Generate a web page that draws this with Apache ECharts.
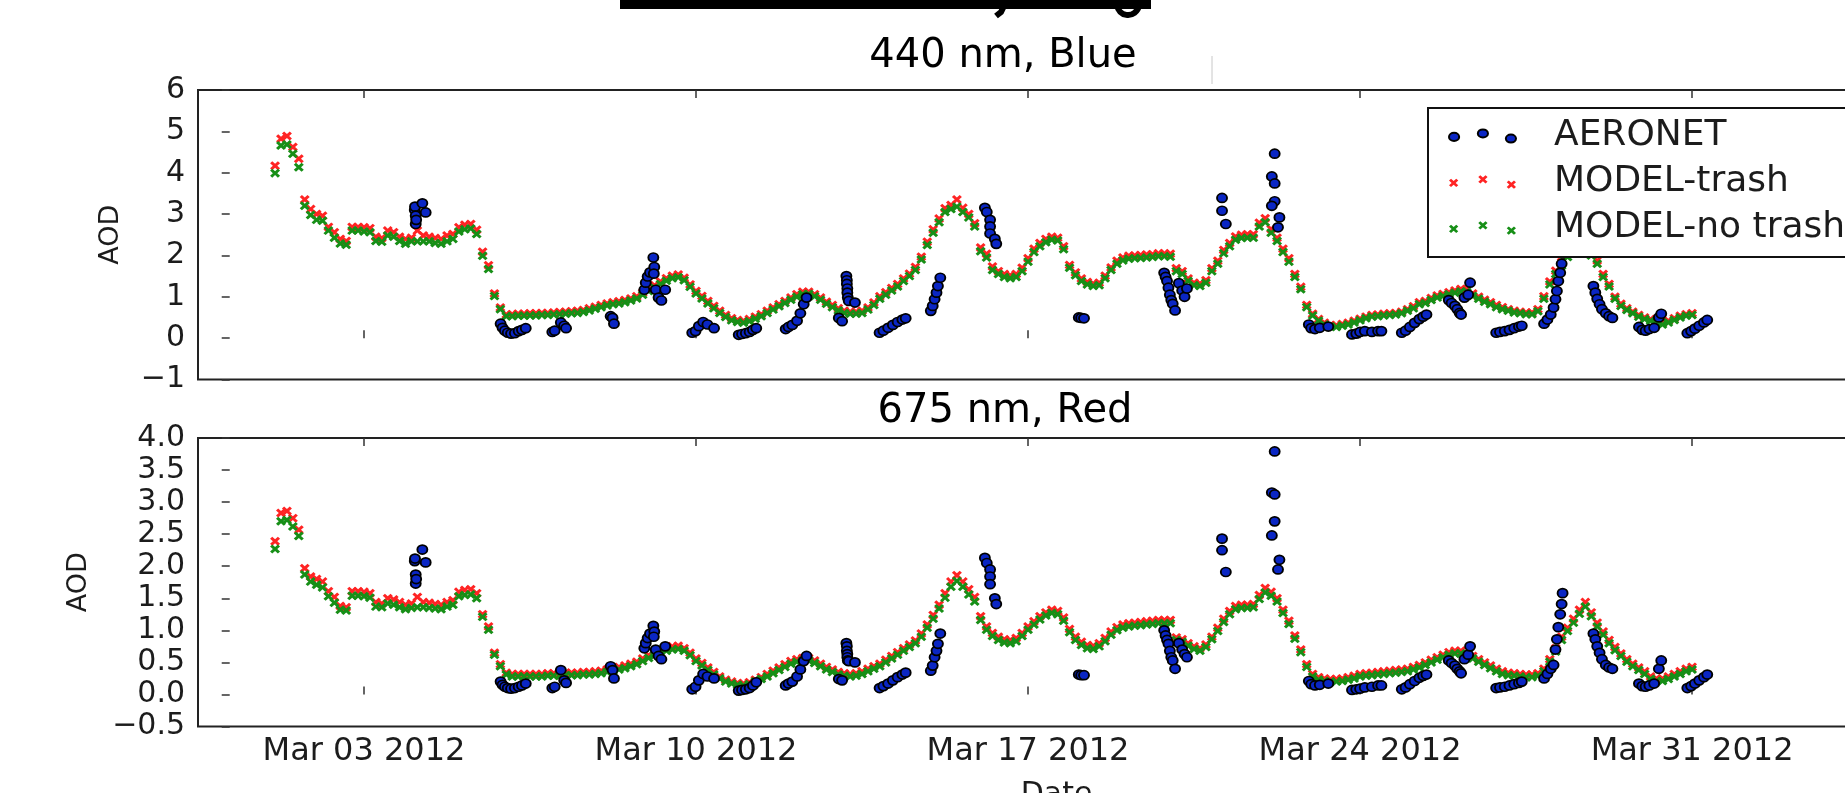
<!DOCTYPE html>
<html><head><meta charset="utf-8">
<script src="https://cdn.jsdelivr.net/npm/echarts@6/dist/echarts.min.js"></script>
<style>html,body{margin:0;padding:0;background:#fff}#c{width:1845px;height:793px}</style>
</head><body><div id="c"></div>
<script>
// ---- data ----
const xTickDays = [3, 10, 17, 24, 31];
const xTickLabels = ['Mar 03 2012', 'Mar 10 2012', 'Mar 17 2012', 'Mar 24 2012', 'Mar 31 2012'];
const panelTitles = ['440 nm, Blue', '675 nm, Red'];
const seriesNames = ['AERONET', 'MODEL-trash', 'MODEL-no trash'];
// model output: 3-hourly, first value on day 1.125 of March 2012
const modelStartDay = 1.125, modelStepDays = 0.125;
const trash440 = [4.17,4.82,4.89,4.62,4.34,3.35,3.12,3.00,
2.96,2.69,2.56,2.40,2.35,2.69,2.69,2.68,
2.66,2.45,2.42,2.60,2.56,2.45,2.40,2.43,
2.60,2.48,2.45,2.42,2.40,2.48,2.52,2.68,
2.74,2.76,2.62,2.09,1.76,1.08,0.74,0.57,
0.58,0.59,0.59,0.60,0.60,0.61,0.61,0.62,
0.63,0.64,0.65,0.66,0.68,0.72,0.76,0.80,
0.84,0.87,0.89,0.92,0.96,1.01,1.10,1.19,
1.28,1.37,1.45,1.51,1.54,1.46,1.30,1.14,
1.02,0.90,0.78,0.66,0.56,0.48,0.44,0.42,
0.46,0.52,0.58,0.66,0.74,0.82,0.90,0.98,
1.06,1.12,1.12,1.06,0.98,0.88,0.80,0.72,
0.66,0.64,0.64,0.66,0.74,0.86,1.01,1.11,
1.21,1.31,1.44,1.56,1.72,1.97,2.33,2.63,
2.89,3.14,3.22,3.35,3.15,3.00,2.78,2.19,
2.04,1.73,1.62,1.55,1.52,1.55,1.70,1.93,
2.16,2.30,2.40,2.45,2.43,2.22,1.77,1.59,
1.44,1.36,1.32,1.34,1.51,1.71,1.87,1.95,
1.99,2.00,2.01,2.02,2.03,2.05,2.05,2.04,
1.69,1.62,1.44,1.34,1.32,1.40,1.69,1.87,
2.13,2.30,2.46,2.50,2.51,2.51,2.79,2.90,
2.64,2.43,2.16,1.93,1.55,1.24,0.80,0.59,
0.46,0.37,0.32,0.31,0.34,0.37,0.42,0.47,
0.52,0.56,0.57,0.59,0.60,0.61,0.64,0.70,
0.77,0.87,0.90,0.97,1.03,1.07,1.11,1.15,
1.19,1.18,1.08,1.00,0.93,0.87,0.80,0.75,
0.70,0.66,0.64,0.62,0.62,0.70,1.01,1.37,
1.63,1.84,2.05,2.25,2.40,2.42,2.10,1.88,
1.55,1.31,1.00,0.83,0.72,0.64,0.56,0.50,
0.46,0.42,0.37,0.42,0.48,0.54,0.58,0.60];
const noTrash440 = [3.99,4.66,4.68,4.46,4.13,3.20,2.98,2.86,
2.84,2.60,2.43,2.29,2.26,2.60,2.60,2.58,
2.56,2.35,2.33,2.48,2.45,2.35,2.28,2.34,
2.34,2.34,2.34,2.30,2.28,2.34,2.40,2.58,
2.63,2.65,2.52,1.99,1.67,1.02,0.70,0.53,
0.53,0.54,0.54,0.55,0.55,0.56,0.56,0.57,
0.58,0.59,0.60,0.61,0.63,0.67,0.71,0.75,
0.79,0.82,0.84,0.87,0.91,0.96,1.05,1.14,
1.22,1.31,1.39,1.45,1.47,1.40,1.24,1.08,
0.96,0.84,0.72,0.61,0.51,0.43,0.39,0.37,
0.41,0.47,0.53,0.61,0.69,0.77,0.85,0.93,
1.00,1.06,1.07,1.01,0.93,0.83,0.75,0.67,
0.61,0.59,0.59,0.61,0.69,0.80,0.95,1.05,
1.15,1.25,1.38,1.50,1.65,1.90,2.25,2.55,
2.80,3.05,3.12,3.18,3.05,2.92,2.70,2.10,
1.95,1.65,1.55,1.48,1.45,1.48,1.62,1.85,
2.08,2.22,2.32,2.38,2.36,2.15,1.70,1.52,
1.38,1.30,1.26,1.28,1.45,1.65,1.80,1.88,
1.92,1.93,1.94,1.95,1.96,1.98,1.98,1.97,
1.62,1.55,1.38,1.28,1.26,1.34,1.62,1.80,
2.05,2.22,2.38,2.42,2.43,2.43,2.70,2.80,
2.55,2.35,2.08,1.85,1.48,1.18,0.75,0.55,
0.42,0.33,0.28,0.27,0.30,0.33,0.38,0.43,
0.48,0.52,0.53,0.55,0.56,0.57,0.60,0.66,
0.72,0.82,0.85,0.92,0.98,1.02,1.06,1.10,
1.13,1.12,1.02,0.95,0.88,0.82,0.75,0.70,
0.66,0.62,0.60,0.58,0.58,0.65,0.95,1.30,
1.55,1.75,1.96,2.15,2.30,2.32,2.00,1.80,
1.48,1.25,0.95,0.78,0.68,0.60,0.52,0.46,
0.42,0.38,0.33,0.38,0.44,0.50,0.54,0.56];
const trash675 = [2.39,2.83,2.86,2.75,2.57,1.97,1.84,1.80,
1.76,1.61,1.52,1.38,1.36,1.61,1.61,1.60,
1.58,1.44,1.42,1.50,1.48,1.44,1.40,1.42,
1.52,1.44,1.43,1.41,1.40,1.44,1.47,1.60,
1.63,1.64,1.58,1.25,1.06,0.65,0.47,0.34,
0.32,0.32,0.32,0.32,0.32,0.32,0.33,0.33,
0.33,0.34,0.34,0.34,0.35,0.35,0.36,0.37,
0.39,0.41,0.43,0.45,0.48,0.51,0.56,0.61,
0.65,0.69,0.72,0.75,0.76,0.72,0.65,0.56,
0.49,0.42,0.35,0.28,0.23,0.20,0.18,0.17,
0.19,0.23,0.27,0.32,0.37,0.42,0.47,0.52,
0.55,0.57,0.57,0.53,0.48,0.43,0.39,0.35,
0.33,0.32,0.33,0.36,0.40,0.44,0.48,0.54,
0.60,0.66,0.72,0.78,0.84,0.95,1.09,1.24,
1.40,1.58,1.76,1.86,1.76,1.64,1.52,1.22,
1.06,0.96,0.90,0.86,0.85,0.88,0.96,1.06,
1.14,1.22,1.28,1.32,1.30,1.20,1.02,0.90,
0.82,0.77,0.76,0.80,0.88,0.98,1.05,1.09,
1.11,1.12,1.13,1.14,1.15,1.16,1.16,1.16,
0.89,0.86,0.80,0.75,0.72,0.78,0.90,1.04,
1.18,1.30,1.38,1.40,1.40,1.41,1.55,1.66,
1.60,1.50,1.32,1.15,0.92,0.70,0.47,0.32,
0.27,0.25,0.24,0.24,0.25,0.27,0.29,0.32,
0.33,0.34,0.35,0.36,0.37,0.38,0.39,0.40,
0.43,0.46,0.50,0.54,0.58,0.62,0.66,0.68,
0.68,0.64,0.60,0.55,0.50,0.45,0.40,0.36,
0.34,0.33,0.32,0.31,0.31,0.33,0.40,0.55,
0.72,0.90,1.04,1.18,1.32,1.44,1.28,1.12,
0.98,0.85,0.74,0.64,0.55,0.48,0.42,0.36,
0.28,0.25,0.25,0.28,0.32,0.36,0.40,0.43];
const noTrash675 = [2.27,2.70,2.72,2.62,2.47,1.87,1.76,1.71,
1.67,1.53,1.43,1.32,1.31,1.54,1.54,1.53,
1.51,1.37,1.36,1.42,1.40,1.36,1.33,1.35,
1.36,1.36,1.35,1.34,1.33,1.37,1.40,1.53,
1.55,1.56,1.50,1.21,1.01,0.62,0.44,0.31,
0.28,0.28,0.28,0.28,0.28,0.28,0.29,0.29,
0.29,0.30,0.30,0.30,0.31,0.31,0.32,0.33,
0.35,0.37,0.39,0.41,0.44,0.47,0.52,0.57,
0.61,0.65,0.68,0.70,0.71,0.68,0.61,0.52,
0.45,0.38,0.31,0.25,0.20,0.17,0.15,0.14,
0.16,0.20,0.24,0.28,0.33,0.38,0.43,0.48,
0.51,0.53,0.53,0.49,0.44,0.39,0.35,0.31,
0.29,0.28,0.29,0.32,0.36,0.40,0.44,0.50,
0.56,0.62,0.68,0.74,0.80,0.90,1.04,1.18,
1.34,1.51,1.68,1.77,1.68,1.56,1.45,1.16,
1.01,0.91,0.85,0.81,0.80,0.83,0.91,1.01,
1.09,1.17,1.23,1.27,1.25,1.15,0.97,0.85,
0.77,0.72,0.71,0.75,0.83,0.93,1.00,1.04,
1.06,1.07,1.08,1.09,1.10,1.11,1.11,1.11,
0.85,0.82,0.76,0.71,0.68,0.74,0.86,0.99,
1.13,1.25,1.33,1.35,1.35,1.36,1.49,1.59,
1.54,1.45,1.27,1.10,0.87,0.66,0.43,0.28,
0.23,0.21,0.20,0.20,0.21,0.23,0.25,0.28,
0.29,0.30,0.31,0.32,0.33,0.34,0.35,0.36,
0.39,0.42,0.46,0.50,0.54,0.58,0.62,0.64,
0.64,0.60,0.56,0.51,0.46,0.41,0.36,0.32,
0.30,0.29,0.28,0.27,0.27,0.29,0.36,0.51,
0.67,0.85,0.99,1.12,1.26,1.37,1.22,1.06,
0.93,0.80,0.69,0.60,0.51,0.44,0.38,0.32,
0.24,0.21,0.21,0.24,0.28,0.32,0.36,0.39];
// AERONET observations (day of March 2012, AOD 440 nm, AOD 675 nm)
const aeronetDays = [4.07,4.075,4.09,4.09,4.10,4.23,4.30,
5.88,5.92,5.97,6.03,6.10,6.18,6.26,6.33,6.41,
6.97,7.02,7.15,7.22,7.26,
8.20,8.24,8.27,
8.91,8.94,8.98,9.03,9.10,9.12,9.11,9.15,9.21,9.27,9.35,
9.92,9.99,10.06,10.15,10.24,10.38,
10.90,10.97,11.05,11.13,11.20,11.27,
11.89,11.95,12.03,12.13,12.20,12.27,12.33,
13.01,13.08,13.17,13.18,13.18,13.19,13.19,13.20,13.22,13.35,
13.87,13.95,14.05,14.15,14.25,14.35,14.42,
14.95,14.99,15.03,15.07,15.10,15.15,
16.09,16.13,16.20,16.20,16.20,16.30,16.33,
18.07,18.12,18.18,
19.87,19.90,19.93,19.96,19.99,20.02,20.05,20.10,20.18,20.25,20.30,20.35,
21.09,21.09,21.17,
22.20,22.14,22.20,22.20,22.14,22.30,22.27,
22.92,22.97,23.05,23.15,23.33,
23.83,23.92,24.00,24.10,24.25,24.38,24.45,
24.88,24.96,25.05,25.15,25.25,25.33,25.40,
25.87,25.93,26.00,26.05,26.10,26.13,26.20,26.28,26.32,
26.87,26.95,27.05,27.15,27.25,27.35,27.41,
27.88,27.95,28.02,28.08,28.12,28.15,28.18,28.22,28.25,28.27,
28.92,28.96,29.00,29.05,29.10,29.18,29.25,29.32,
29.88,29.95,30.02,30.10,30.20,30.30,30.35,
30.90,30.98,31.06,31.15,31.25,31.32];
const aeronet440 = [3.10,3.18,2.96,2.76,2.86,3.26,3.04,
0.35,0.25,0.18,0.13,0.11,0.12,0.17,0.20,0.24,
0.15,0.18,0.38,0.30,0.24,
0.53,0.49,0.35,
1.17,1.34,1.49,1.59,1.95,1.72,1.56,1.17,0.98,0.91,1.17,
0.13,0.17,0.29,0.39,0.33,0.24,
0.08,0.10,0.12,0.15,0.20,0.24,
0.22,0.27,0.32,0.42,0.60,0.82,0.98,
0.49,0.41,1.50,1.40,1.31,1.20,1.10,0.98,0.90,0.86,
0.13,0.18,0.25,0.32,0.39,0.45,0.48,
0.66,0.78,0.94,1.10,1.26,1.46,
3.15,3.05,2.86,2.70,2.53,2.40,2.28,
0.50,0.49,0.48,
1.58,1.48,1.38,1.22,1.05,0.92,0.83,0.67,1.33,1.15,1.00,1.20,
3.39,3.08,2.76,
4.46,3.91,3.74,3.31,3.20,2.92,2.68,
0.33,0.24,0.22,0.25,0.28,
0.09,0.11,0.15,0.17,0.15,0.17,0.17,
0.13,0.18,0.27,0.37,0.46,0.52,0.57,
0.92,0.85,0.78,0.70,0.61,0.57,0.98,1.05,1.34,
0.13,0.15,0.17,0.20,0.24,0.28,0.30,
0.35,0.45,0.57,0.74,0.94,1.14,1.38,1.58,1.80,2.05,
1.26,1.10,0.95,0.82,0.70,0.60,0.53,0.49,
0.27,0.20,0.18,0.22,0.25,0.50,0.59,
0.12,0.17,0.23,0.30,0.38,0.44];
const aeronet675 = [2.08,2.12,1.87,1.73,1.80,2.26,2.06,
0.20,0.15,0.12,0.10,0.09,0.10,0.12,0.14,0.17,
0.10,0.12,0.38,0.22,0.18,
0.44,0.38,0.25,
0.72,0.80,0.88,0.95,1.07,0.98,0.90,0.70,0.60,0.55,0.75,
0.08,0.12,0.22,0.32,0.28,0.25,
0.06,0.07,0.08,0.10,0.14,0.19,
0.14,0.17,0.20,0.28,0.39,0.52,0.60,
0.24,0.22,0.80,0.75,0.68,0.63,0.58,0.53,0.52,0.50,
0.10,0.13,0.17,0.22,0.27,0.31,0.34,
0.37,0.45,0.58,0.68,0.79,0.95,
2.13,2.05,1.95,1.84,1.72,1.50,1.41,
0.31,0.30,0.30,
1.00,0.92,0.85,0.79,0.68,0.58,0.53,0.40,0.80,0.70,0.63,0.58,
2.43,2.25,1.91,
3.79,3.15,3.12,2.70,2.48,2.10,1.95,
0.21,0.16,0.14,0.15,0.17,
0.07,0.08,0.09,0.11,0.12,0.14,0.14,
0.08,0.11,0.16,0.21,0.26,0.29,0.31,
0.53,0.49,0.45,0.40,0.36,0.33,0.55,0.62,0.75,
0.10,0.11,0.12,0.14,0.16,0.18,0.20,
0.25,0.32,0.40,0.46,0.70,0.86,1.05,1.25,1.41,1.58,
0.95,0.86,0.75,0.65,0.55,0.46,0.42,0.40,
0.17,0.13,0.12,0.14,0.17,0.40,0.53,
0.10,0.13,0.17,0.22,0.27,0.31];

// ---- styling ----
const FONT = 'DejaVu Sans';
const TXT = '#1c1c1c';
const BLUE = '#0a26c4', RED = '#ff2424', GREEN = '#178f17';
const X_PATH = 'path://M0,2.2L2.2,0L5,2.8L7.8,0L10,2.2L7.2,5L10,7.8L7.8,10L5,7.2L2.2,10L0,7.8L2.8,5Z';
function ellipse(cx, cy, rx, ry) {
  return 'M' + (cx - rx) + ',' + cy + 'A' + rx + ',' + ry + ',0,1,0,' + (cx + rx) + ',' + cy +
         'A' + rx + ',' + ry + ',0,1,0,' + (cx - rx) + ',' + cy + 'Z';
}
function cross(cx, cy, hw, hh) {
  const pts = [[0,2.2],[2.2,0],[5,2.8],[7.8,0],[10,2.2],[7.2,5],[10,7.8],[7.8,10],[5,7.2],[2.2,10],[0,7.8],[2.8,5]];
  return pts.map((p, k) => (k ? 'L' : 'M') + (cx - hw + p[0] * hw / 5).toFixed(2) + ',' + (cy - hh + p[1] * hh / 5).toFixed(2)).join('') + 'Z';
}
const iconCenters = [[5.5, 7.9], [33.9, 4.5], [61.5, 9.5]];
const dotIcon = 'path://' + iconCenters.map(c => ellipse(c[0], c[1], 5, 4)).join('');
const crossIcon = 'path://' + iconCenters.map(c => cross(c[0], c[1] - 1, 4.5, 4)).join('');

const modelPairs = arr => arr.map((v, i) => [modelStartDay + i * modelStepDays, v]);
const obsPairs = arr => aeronetDays.map((d, i) => [d, arr[i]]);
const minus = s => String(s).replace('-', '\u2212');

const XMIN = -0.5, XMAX = 35.7;
const gridW = 1717;

function xAx(gridIndex, pos, labels, name) {
  return {
    type: 'value', gridIndex, position: pos, min: XMIN, max: XMAX,
    axisLine: { show: false }, splitLine: { show: false },
    axisTick: { show: true, inside: true, length: 8, customValues: xTickDays, lineStyle: { color: '#333', width: 1.5 } },
    axisLabel: labels ? {
      show: true, customValues: xTickDays, margin: 9, fontSize: 32, fontFamily: FONT, color: TXT,
      formatter: v => xTickLabels[xTickDays.indexOf(Math.round(v))] || ''
    } : { show: false },
    name: name || '', nameLocation: 'middle', nameGap: 54,
    nameTextStyle: { fontSize: 30, fontFamily: FONT, color: TXT }
  };
}
function yAx(gridIndex, min, max, interval, fmt, gap) {
  return {
    type: 'value', gridIndex, min, max, interval,
    axisLine: { show: false }, splitLine: { show: false },
    axisTick: { show: true, inside: true, length: 8, lineStyle: { color: '#333', width: 1.5 } },
    axisLabel: { margin: 13, fontSize: 30, fontFamily: FONT, color: TXT, formatter: fmt },
    name: 'AOD', nameLocation: 'middle', nameGap: gap,
    nameTextStyle: { fontSize: 27, fontFamily: FONT, color: TXT }
  };
}
function modelSeries(name, data, color, xi, yi, z) {
  return { type: 'scatter', name, data, xAxisIndex: xi, yAxisIndex: yi, z,
    symbol: X_PATH, symbolSize: [10, 9], itemStyle: { color, opacity: 1 },
    emphasis: { disabled: true }, silent: true };
}
function obsSeries(data, xi, yi) {
  return { type: 'scatter', name: seriesNames[0], data, xAxisIndex: xi, yAxisIndex: yi, z: 5,
    symbol: 'circle', symbolSize: [10, 9],
    itemStyle: { color: BLUE, borderColor: '#000', borderWidth: 1.8, opacity: 1 },
    emphasis: { disabled: true }, silent: true };
}
const gridBase = { left: 198, width: gridW, show: true, borderColor: '#222', borderWidth: 2,
  backgroundColor: 'transparent', containLabel: false, outerBoundsMode: 'none' };

const option = {
  animation: false,
  backgroundColor: '#fff',
  textStyle: { fontFamily: FONT },
  title: [
    { text: panelTitles[0], left: 1003, top: 37, textAlign: 'center', padding: 0,
      textStyle: { fontSize: 40, fontWeight: 'normal', fontFamily: FONT, color: '#000' } },
    { text: panelTitles[1], left: 1005, top: 392, textAlign: 'center', padding: 0,
      textStyle: { fontSize: 40, fontWeight: 'normal', fontFamily: FONT, color: '#000' } }
  ],
  grid: [
    Object.assign({ top: 90, height: 289.5 }, gridBase),
    Object.assign({ top: 438, height: 288.5 }, gridBase)
  ],
  xAxis: [
    xAx(0, 'bottom', false), xAx(0, 'top', false),
    xAx(1, 'bottom', true, 'Date'), xAx(1, 'top', false)
  ],
  yAxis: [
    yAx(0, -1, 6, 1, v => minus(v), 74),
    yAx(1, -0.5, 4, 0.5, v => minus(v.toFixed(1)), 106)
  ],
  legend: {
    left: 1428, top: 108, orient: 'vertical', z: 20,
    padding: [10, 80, 11, 20], itemGap: 10, itemWidth: 67, itemHeight: 14,
    backgroundColor: '#fff', borderColor: '#111', borderWidth: 2, borderRadius: 0,
    selectedMode: false,
    textStyle: { fontSize: 36, lineHeight: 36, fontFamily: FONT, color: TXT, padding: [0, 0, 0, 33] },
    data: [
      { name: seriesNames[0], icon: dotIcon },
      { name: seriesNames[1], icon: crossIcon },
      { name: seriesNames[2], icon: crossIcon }
    ]
  },
  graphic: [
    { type: 'rect', shape: { x: 620, y: 0, width: 531, height: 9 }, style: { fill: '#000' }, silent: true },
    { type: 'polyline', shape: { points: [[1004, 6], [1001, 12], [996, 16]] }, style: { stroke: '#000', lineWidth: 6, fill: null }, silent: true },
    { type: 'arc', shape: { cx: 1128, cy: 4, r: 11, startAngle: 0.15, endAngle: Math.PI - 0.15 }, style: { stroke: '#000', lineWidth: 6, fill: null }, silent: true },
    { type: 'line', shape: { x1: 1212, y1: 56, x2: 1212, y2: 84 }, style: { stroke: '#c8c8c8', lineWidth: 1 }, silent: true }
  ],
  series: [
    modelSeries(seriesNames[1], modelPairs(trash440), RED, 0, 0, 3),
    modelSeries(seriesNames[2], modelPairs(noTrash440), GREEN, 0, 0, 4),
    obsSeries(obsPairs(aeronet440), 0, 0),
    modelSeries(seriesNames[1], modelPairs(trash675), RED, 2, 1, 3),
    modelSeries(seriesNames[2], modelPairs(noTrash675), GREEN, 2, 1, 4),
    obsSeries(obsPairs(aeronet675), 2, 1)
  ]
};
const chart = echarts.init(document.getElementById('c'), null, { renderer: 'canvas' });
chart.setOption(option);
</script>
</body></html>
